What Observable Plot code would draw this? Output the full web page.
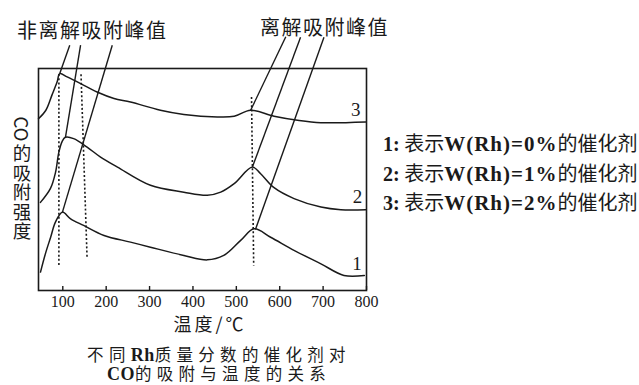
<!DOCTYPE html>
<html><head><meta charset="utf-8">
<script src="https://cdn.jsdelivr.net/npm/d3@7"></script>
<script src="https://cdn.jsdelivr.net/npm/@observablehq/plot@0.6"></script>
<style>
body{margin:0;background:#fff;}
#wrap{position:relative;width:639px;height:385px;overflow:hidden;background:#fff;}
#wrap > svg{position:absolute;left:0;top:0;}
#wrap svg text{font-family:"Liberation Serif",serif !important;}
#wrap svg g[aria-label="x-axis tick label"]{font-size:16px !important;}
#wrap svg g[aria-label="text"]{font-size:19px !important;}
.t{position:absolute;white-space:nowrap;color:#1a1a1a;font-family:"Noto Sans CJK SC",sans-serif;line-height:1;}
.s{font-family:"Liberation Serif",serif;font-weight:bold;line-height:1;}
</style></head><body><div id="wrap"></div>
<script>
// ---- data ----
const xTicks = [100, 200, 300, 400, 500, 600, 700, 800];

// curve 1: W(Rh)=0%
const c1T = [48.6, 60, 72, 83, 99, 118, 148, 195, 256, 302, 379, 433, 471, 510, 541, 579, 634, 695, 748, 795];
const c1V = [8.3, 16.6, 24, 30.8, 35.3, 32.3, 29.3, 24.8, 21.8, 19.5, 15.8, 13.8, 15.8, 22.6, 27.8, 24, 18, 12, 6.8, 6.8];
// curve 2: W(Rh)=1%
const c2T = [48.5, 71.6, 83.2, 90.8, 98.6, 106, 125, 156, 187, 226, 302, 379, 433, 464, 495, 537, 556, 587, 633, 695, 741, 798];
const c2V = [39.7, 46, 53.2, 62.2, 67.2, 69, 68.4, 64.6, 60.1, 55.6, 47.4, 44.3, 42.9, 44.3, 48.1, 55.6, 52.6, 46.3, 41.4, 37.6, 36.4, 36.4];
// curve 3: W(Rh)=2%
const c3T = [44, 61, 75, 87, 93, 110, 141, 179, 218, 256, 325, 379, 456, 495, 533, 587, 641, 695, 798];
const c3V = [77.4, 81.2, 88, 94, 97.7, 96.2, 93.2, 89.4, 86.5, 84.9, 81.2, 79.3, 78.2, 78.5, 81.2, 78.5, 76.7, 75.6, 75.9];

const curveNames = ["1", "2", "3"];
const nameT = [778, 779, 775];
const nameV = [12.0, 42.1, 81.2];

// dotted peak markers
const dashX1 = [91, 142, 535];
const dashY1 = [97.5, 97.4, 87.2];
const dashX2 = [91, 156, 540];
const dashY2 = [11.5, 14.4, 11.3];

// leader lines from the two annotations to the peaks
const leadX1 = [116, 141, 214, 614, 648, 702];
const leadY1 = [110.5, 110.5, 110.5, 114.3, 114.1, 114.1];
const leadX2 = [93, 106, 99, 533, 537, 544];
const leadY2 = [97.7, 68.9, 35.2, 81.2, 55.6, 27.5];

const annoLeft = "非离解吸附峰值";
const annoRight = "离解吸附峰值";
const yTitleParts = ["CO", "的吸附强度"];
const xTitle = "温度/℃";
const legendItems = [["1:", "表示", "W(Rh)=0%", "的催化剂"], ["2:", "表示", "W(Rh)=1%", "的催化剂"], ["3:", "表示", "W(Rh)=2%", "的催化剂"]];
const captionLines = [["不同", "Rh", "质量分数的催化剂对"], ["", "CO", "的吸附与温度的关系"]];

// ---- build ----
const rows = [];
[[c1T, c1V, "1"], [c2T, c2V, "2"], [c3T, c3V, "3"]].forEach(([T, V, s]) =>
  T.forEach((t, i) => rows.push({t, v: V[i], s})));

const ink = "#1a1a1a";
const plot = Plot.plot({
  width: 639, height: 385,
  marginLeft: 38, marginRight: 273, marginTop: 68, marginBottom: 95,
  x: {domain: [44, 800], label: null},
  y: {domain: [0, 100], axis: null, label: null},
  style: {fontFamily: "Liberation Serif", fontSize: "16px", color: ink, background: "transparent"},
  marks: [
    Plot.axisX(xTicks, {tickSize: -4, tickPadding: 9, fontSize: 16, label: null, stroke: ink, fill: ink, strokeWidth: 1.4}),
    Plot.line(rows, {x: "t", y: "v", z: "s", curve: "catmull-rom", stroke: ink, strokeWidth: 1.5}),
    Plot.link(dashX1, {x1: dashX1, y1: dashY1, x2: dashX2, y2: dashY2, stroke: ink, strokeWidth: 1.6, strokeDasharray: "2,2.2"}),
    Plot.link(leadX1, {x1: leadX1, y1: leadY1, x2: leadX2, y2: leadY2, stroke: ink, strokeWidth: 1.4}),
    Plot.text(curveNames, {x: nameT, y: nameV, text: d => d, fontSize: 19, fill: ink}),
    Plot.frame({stroke: ink, strokeWidth: 1.6})
  ]
});
const wrap = document.getElementById("wrap");
wrap.appendChild(plot);

function addText(html, css) {
  const d = document.createElement("div");
  d.className = "t";
  d.innerHTML = html;
  Object.assign(d.style, css);
  wrap.appendChild(d);
  return d;
}
addText(annoLeft, {left: "17px", top: "20px", fontSize: "20px", letterSpacing: "1.5px"});
addText(annoRight, {left: "260px", top: "17px", fontSize: "20px", letterSpacing: "1.5px"});

// vertical y title: rotated Latin + stacked CJK
addText(yTitleParts[0], {left: "22px", top: "129px", fontSize: "18.5px", transform: "translate(-50%,-50%) rotate(90deg)"});
addText(yTitleParts[1], {left: "12.5px", top: "144px", fontSize: "18.5px", letterSpacing: "1px", writingMode: "vertical-rl"});

addText(xTitle, {left: "210px", top: "314px", fontSize: "18px", letterSpacing: "3px", transform: "translateX(-50%)"});
legendItems.forEach((it, i) => {
  addText(`<span class="s" style="font-size:20px">${it[0]}</span> ${it[1]}<span class="s" style="font-size:21px;letter-spacing:1px">${it[2]}</span>${it[3]}`,
    {left: "383px", top: (133.3 + i * 29.2) + "px", fontSize: "20px"});
});
captionLines.forEach((ln, i) => {
  addText(`${ln[0]}<span class="s" style="font-size:18px;letter-spacing:0.5px">${ln[1]}</span>${ln[2]}`,
    {left: "219px", top: (345.5 + i * 19.5) + "px", fontSize: "16.5px", letterSpacing: "5.3px", transform: "translateX(-50%)"});
});
</script></body></html>
